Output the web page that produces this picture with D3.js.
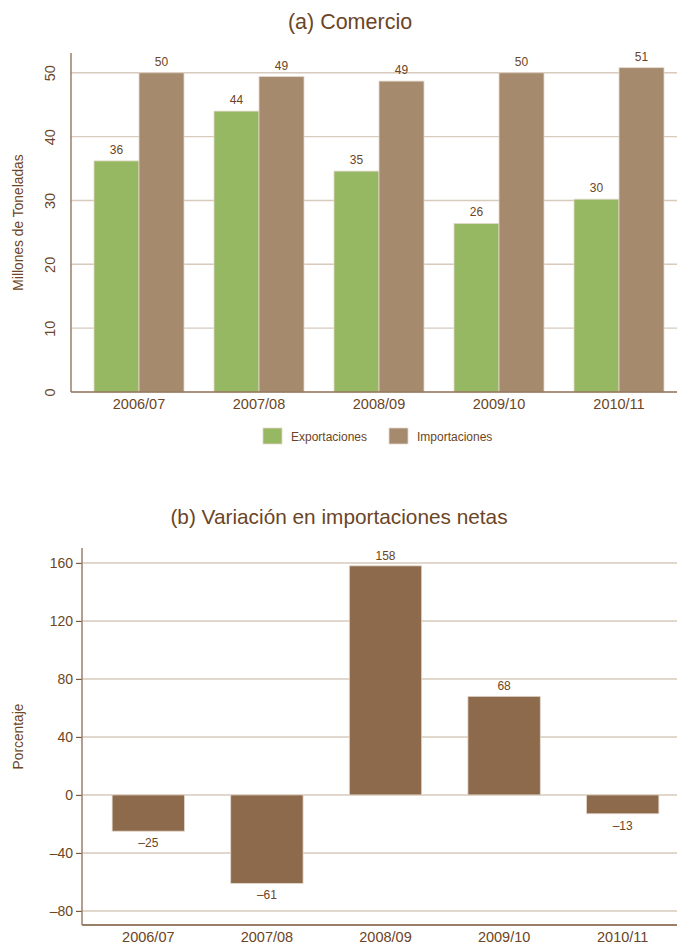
<!DOCTYPE html>
<html>
<head>
<meta charset="utf-8">
<script src="https://cdn.jsdelivr.net/npm/d3@7"></script>
<style>
  html, body { margin: 0; padding: 0; background: #ffffff; }
  svg { display: block; font-family: "Liberation Sans", Arial, Helvetica, sans-serif; }
</style>
</head>
<body>
<svg id="chart" width="677" height="944"></svg>
<script>
// Campaign years shared by both panels
const seasons = ["2006/07", "2007/08", "2008/09", "2009/10", "2010/11"];

// Panel (a): trade volumes, millions of tonnes
const exportaciones = [36.2, 44.0, 34.6, 26.4, 30.2];
const importaciones = [50.0, 49.4, 48.7, 50.0, 50.8];
const seriesNames = ["Exportaciones", "Importaciones"];
const ticksA = [0, 10, 20, 30, 40, 50];

// Panel (b): change in net imports, percent
const variacion = [-25, -61, 158, 68, -13];
const ticksB = [-80, -40, 0, 40, 80, 120, 160];

const textColor = "#6b4526";
const axisColor = "#9a7f68";
const gridColor = "#d8cabd";
const colExp = "#97b862";
const colImp = "#a68a6e";
const colVar = "#8c6a4b";
const barEdge = "#e3d8cc";

const svg = d3.select("#chart");
const fmtSigned = v => (v < 0 ? "\u2013" + Math.abs(v) : String(v));

/* ---------- Panel (a) ---------- */
{
  const top = 53, bottom = 392, left = 71, right = 677;
  const g = svg.append("g");

  g.append("text")
    .attr("x", 350).attr("y", 29)
    .attr("text-anchor", "middle")
    .attr("font-size", 21.5)
    .attr("fill", textColor)
    .text("(a) Comercio");

  const x0 = d3.scaleBand().domain(seasons).range([79, 679])
    .paddingInner(0.25).paddingOuter(0.125);
  const x1 = d3.scaleBand().domain(seriesNames).range([0, x0.bandwidth()]);
  const y = d3.scaleLinear().domain([0, 53.1]).range([bottom, top]);

  // grid lines
  g.append("g").selectAll("line")
    .data(ticksA.filter(t => t > 0))
    .join("line")
    .attr("x1", left).attr("x2", right)
    .attr("y1", d => y(d)).attr("y2", d => y(d))
    .attr("stroke", gridColor).attr("stroke-width", 1.4);

  // y axis with vertical tick labels
  const yAxis = g.append("g")
    .attr("transform", `translate(${left},0)`)
    .call(d3.axisLeft(y).tickValues(ticksA).tickSize(0).tickPadding(0));
  yAxis.select(".domain").remove();
  yAxis.selectAll(".tick text")
    .attr("x", 0).attr("y", 0).attr("dy", null)
    .attr("text-anchor", "middle")
    .attr("transform", "translate(-16,0) rotate(-90)")
    .attr("font-size", 14.5)
    .attr("fill", textColor)
    .attr("font-family", "Liberation Sans, Arial, sans-serif");
  g.append("line")
    .attr("x1", left).attr("x2", left).attr("y1", top).attr("y2", bottom)
    .attr("stroke", axisColor).attr("stroke-width", 1.5);

  g.append("text")
    .attr("transform", `translate(23,${(top + bottom) / 2}) rotate(-90)`)
    .attr("text-anchor", "middle")
    .attr("font-size", 13.8)
    .attr("fill", textColor)
    .text("Millones de Toneladas");

  const rows = seasons.map((s, i) => ({
    season: s,
    values: [
      { key: "Exportaciones", value: exportaciones[i] },
      { key: "Importaciones", value: importaciones[i] }
    ]
  }));
  const color = d3.scaleOrdinal().domain(seriesNames).range([colExp, colImp]);

  const groups = g.append("g").selectAll("g")
    .data(rows).join("g")
    .attr("transform", d => `translate(${x0(d.season)},0)`);

  groups.selectAll("rect")
    .data(d => d.values).join("rect")
    .attr("x", d => x1(d.key))
    .attr("width", x1.bandwidth())
    .attr("y", d => y(d.value))
    .attr("height", d => y(0) - y(d.value))
    .attr("fill", d => color(d.key))
    .attr("stroke", barEdge).attr("stroke-width", 0.8);

  groups.selectAll("text")
    .data(d => d.values).join("text")
    .attr("x", d => x1(d.key) + x1.bandwidth() / 2)
    .attr("y", d => y(d.value) - 7)
    .attr("text-anchor", "middle")
    .attr("font-size", 12)
    .attr("fill", textColor)
    .text(d => d3.format(".0f")(d.value));

  // x axis
  const xAxis = g.append("g")
    .attr("transform", `translate(0,${bottom})`)
    .call(d3.axisBottom(x0).tickSize(0).tickPadding(7));
  xAxis.select(".domain").remove();
  xAxis.selectAll(".tick text")
    .attr("font-size", 14.5).attr("fill", textColor)
    .attr("font-family", "Liberation Sans, Arial, sans-serif");
  g.append("line")
    .attr("x1", left).attr("x2", right).attr("y1", bottom).attr("y2", bottom)
    .attr("stroke", "#8c6f55").attr("stroke-width", 1.6);

  // legend
  const legendX = [263, 389];
  const legend = g.append("g").selectAll("g")
    .data(seriesNames).join("g")
    .attr("transform", (d, i) => `translate(${legendX[i]},428)`);
  legend.append("rect")
    .attr("width", 19).attr("height", 16)
    .attr("fill", d => color(d))
    .attr("stroke", barEdge).attr("stroke-width", 0.8);
  legend.append("text")
    .attr("x", 28).attr("y", 12.5)
    .attr("font-size", 12)
    .attr("fill", textColor)
    .text(d => d);
}

/* ---------- Panel (b) ---------- */
{
  const top = 548, bottom = 925, left = 82, right = 677;
  const g = svg.append("g");

  g.append("text")
    .attr("x", 339).attr("y", 524)
    .attr("text-anchor", "middle")
    .attr("font-size", 20.8)
    .attr("fill", textColor)
    .text("(b) Variación en importaciones netas");

  const x = d3.scaleBand().domain(seasons).range([89, 682])
    .paddingInner(0.39).paddingOuter(0.195);
  const y = d3.scaleLinear().domain([-89.7, 170.3]).range([bottom, top]);

  g.append("g").selectAll("line")
    .data(ticksB)
    .join("line")
    .attr("x1", left).attr("x2", right)
    .attr("y1", d => y(d)).attr("y2", d => y(d))
    .attr("stroke", gridColor).attr("stroke-width", 1.4);

  const yAxis = g.append("g")
    .attr("transform", `translate(${left},0)`)
    .call(d3.axisLeft(y).tickValues(ticksB).tickSize(6).tickPadding(3)
      .tickFormat(fmtSigned));
  yAxis.select(".domain").remove();
  yAxis.selectAll(".tick line").attr("stroke", "#7a5a3e").attr("stroke-width", 1.2);
  yAxis.selectAll(".tick text")
    .attr("font-size", 14).attr("fill", textColor)
    .attr("font-family", "Liberation Sans, Arial, sans-serif");
  g.append("line")
    .attr("x1", left).attr("x2", left).attr("y1", top).attr("y2", bottom)
    .attr("stroke", axisColor).attr("stroke-width", 1.5);

  g.append("text")
    .attr("transform", `translate(23,${(top + bottom) / 2}) rotate(-90)`)
    .attr("text-anchor", "middle")
    .attr("font-size", 13.8)
    .attr("fill", textColor)
    .text("Porcentaje");

  const data = seasons.map((s, i) => ({ season: s, value: variacion[i] }));

  g.append("g").selectAll("rect")
    .data(data).join("rect")
    .attr("x", d => x(d.season))
    .attr("width", x.bandwidth())
    .attr("y", d => y(Math.max(0, d.value)))
    .attr("height", d => Math.abs(y(d.value) - y(0)))
    .attr("fill", colVar)
    .attr("stroke", barEdge).attr("stroke-width", 0.8);

  g.append("g").selectAll("text")
    .data(data).join("text")
    .attr("x", d => x(d.season) + x.bandwidth() / 2)
    .attr("y", d => d.value >= 0 ? y(d.value) - 6 : y(d.value) + 16)
    .attr("text-anchor", "middle")
    .attr("font-size", 12)
    .attr("fill", textColor)
    .text(d => fmtSigned(d.value));

  const xAxis = g.append("g")
    .attr("transform", `translate(0,${bottom})`)
    .call(d3.axisBottom(x).tickSize(0).tickPadding(7));
  xAxis.select(".domain").remove();
  xAxis.selectAll(".tick text")
    .attr("font-size", 14.5).attr("fill", textColor)
    .attr("font-family", "Liberation Sans, Arial, sans-serif");
  g.append("line")
    .attr("x1", left).attr("x2", right).attr("y1", bottom).attr("y2", bottom)
    .attr("stroke", axisColor).attr("stroke-width", 2);
}
</script>
</body>
</html>
